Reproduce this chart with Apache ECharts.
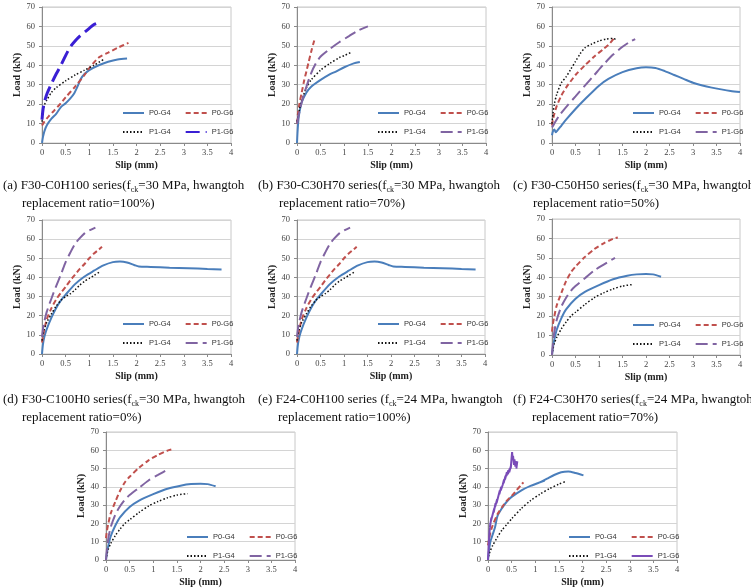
<!DOCTYPE html>
<html><head><meta charset="utf-8">
<script src="https://cdn.jsdelivr.net/npm/echarts@6/dist/echarts.min.js"></script>
<style>html,body{margin:0;padding:0;background:#fff}#c{width:751px;height:588px}</style>
</head><body><div id="c"></div>
<script>
// ---- data ----
const seriesNames = ['P0-G4', 'P0-G6', 'P1-G4', 'P1-G6'];
const xRange = [0, 4, 0.5];
const yRange = [0, 70, 10];
const xName = 'Slip (mm)';
const yName = 'Load (kN)';

const captionLine1 = [
  '(a) F30-C0H100 series(f{s|ck}=30 MPa, hwangtoh',
  '(b) F30-C30H70 series(f{s|ck}=30 MPa, hwangtoh',
  '(c) F30-C50H50 series(f{s|ck}=30 MPa, hwangtoh',
  '(d) F30-C100H0 series(f{s|ck}=30 MPa, hwangtoh',
  '(e) F24-C0H100 series (f{s|ck}=24 MPa, hwangtoh',
  '(f) F24-C30H70 series(f{s|ck}=24 MPa, hwangtoh'
];
const captionLine2 = [
  'replacement ratio=100%)',
  'replacement ratio=70%)',
  'replacement ratio=50%)',
  'replacement ratio=0%)',
  'replacement ratio=100%)',
  'replacement ratio=70%)'
];

// (a)
const a_P0G4 = [[0,0],[0.02,3],[0.05,6],[0.1,9],[0.2,12.5],[0.3,15],[0.4,18.5],[0.5,20.5],[0.6,23],[0.68,25.5],[0.75,29],[0.82,33],[0.9,35.5],[1.0,37.5],[1.2,40],[1.4,41.8],[1.6,43],[1.8,43.5]];
const a_P0G6 = [[0,9],[0.05,11],[0.15,14],[0.25,16.5],[0.4,20.5],[0.5,23.5],[0.7,29],[0.9,35],[1.0,38.5],[1.2,44],[1.4,46.5],[1.6,49],[1.83,51.5]];
const a_P1G4 = [[0,11],[0.02,16],[0.05,19.5],[0.1,22],[0.2,26],[0.3,28.5],[0.5,32],[0.7,35],[0.9,37.5],[1.1,40],[1.3,43]];
const a_P1G6 = [[0,12],[0.02,17],[0.05,21],[0.1,25],[0.2,30.5],[0.3,35.5],[0.4,40],[0.5,45],[0.6,49.5],[0.7,52.5],[0.8,55],[0.9,57],[1.0,59],[1.1,61],[1.2,62]];
// (b)
const b_P0G4 = [[0,0],[0.01,5],[0.03,12],[0.06,17],[0.1,21],[0.2,26],[0.3,29],[0.5,32.5],[0.7,35.5],[0.8,36.5],[1.0,39],[1.2,41],[1.33,41.7]];
const b_P0G6 = [[0,10],[0.02,15],[0.05,20],[0.1,26],[0.15,32],[0.2,37],[0.25,42],[0.3,47],[0.35,51.5],[0.38,54]];
const b_P1G4 = [[0,11],[0.05,17],[0.1,22],[0.2,28.5],[0.3,32.5],[0.5,37.5],[0.7,41],[0.9,44],[1.0,45],[1.16,46.8]];
const b_P1G6 = [[0,10],[0.05,16],[0.1,21],[0.2,29],[0.3,36],[0.4,41],[0.5,44.5],[0.7,48.5],[0.9,52],[1.1,55],[1.3,58],[1.5,60]];
// (c)
const c_P0G4 = [[0,4],[0.02,6],[0.05,7],[0.08,5.5],[0.1,6],[0.2,9],[0.3,12],[0.5,17.5],[0.7,22.5],[1.0,29.5],[1.2,33],[1.5,36.5],[1.8,38.5],[2.0,39],[2.2,38.6],[2.4,37],[2.6,35],[2.8,33],[3.0,31],[3.2,29.6],[3.4,28.5],[3.6,27.6],[3.8,26.8],[4.0,26.2]];
const c_P0G6 = [[0,9],[0.02,12],[0.05,15],[0.1,19],[0.2,24.5],[0.3,28.5],[0.5,35],[0.7,40],[0.9,44.5],[1.1,48.5],[1.2,50.5],[1.34,54.5]];
const c_P1G4 = [[0,10],[0.02,15],[0.05,20],[0.1,25],[0.2,31],[0.3,34],[0.4,38],[0.5,42],[0.6,46],[0.7,49],[0.85,51],[1.0,52.5],[1.15,53.5],[1.3,53.8],[1.38,53]];
const c_P1G6 = [[0,8],[0.05,10],[0.15,14],[0.3,18.5],[0.5,24],[0.7,29.5],[0.9,35],[1.1,40.5],[1.3,45.5],[1.5,49.5],[1.65,52],[1.77,53.5]];
// (d)
const d_P0G4 = [[0,0],[0.02,5],[0.05,9],[0.1,13],[0.2,19],[0.3,24],[0.4,28],[0.5,31],[0.7,36.5],[0.9,40.5],[1.1,43.5],[1.3,46.3],[1.5,48],[1.65,48.3],[1.8,47.8],[1.95,46.5],[2.05,45.7],[2.3,45.5],[2.7,45.1],[3.1,44.8],[3.5,44.4],[3.8,44.2]];
const d_P0G6 = [[0,6],[0.02,9],[0.05,13],[0.1,18],[0.2,24],[0.3,28.5],[0.4,32],[0.5,35],[0.6,38.5],[0.7,41.5],[0.8,44.5],[0.9,47],[1.0,50],[1.1,52.5],[1.2,54.5],[1.27,56]];
const d_P1G4 = [[0,7],[0.02,10],[0.05,13],[0.1,16.5],[0.2,21],[0.3,25],[0.4,28],[0.5,30],[0.6,31.5],[0.7,33.5],[0.8,36],[0.9,38],[1.0,39.5],[1.1,41],[1.23,43]];
const d_P1G6 = [[0,9],[0.02,13],[0.05,17],[0.1,22],[0.2,29],[0.3,35.5],[0.4,41.5],[0.5,48],[0.6,53],[0.7,57.5],[0.8,60.5],[0.9,63],[1.0,64.5],[1.13,66]];
// (e) plotted identically to (d) in the source figure
const e_P0G4 = [[0,0],[0.02,5],[0.05,9],[0.1,13],[0.2,19],[0.3,24],[0.4,28],[0.5,31],[0.7,36.5],[0.9,40.5],[1.1,43.5],[1.3,46.3],[1.5,48],[1.65,48.3],[1.8,47.8],[1.95,46.5],[2.05,45.7],[2.3,45.5],[2.7,45.1],[3.1,44.8],[3.5,44.4],[3.8,44.2]];
const e_P0G6 = [[0,6],[0.02,9],[0.05,13],[0.1,18],[0.2,24],[0.3,28.5],[0.4,32],[0.5,35],[0.6,38.5],[0.7,41.5],[0.8,44.5],[0.9,47],[1.0,50],[1.1,52.5],[1.2,54.5],[1.27,56]];
const e_P1G4 = [[0,7],[0.02,10],[0.05,13],[0.1,16.5],[0.2,21],[0.3,25],[0.4,28],[0.5,30],[0.6,31.5],[0.7,33.5],[0.8,36],[0.9,38],[1.0,39.5],[1.1,41],[1.23,43]];
const e_P1G6 = [[0,9],[0.02,13],[0.05,17],[0.1,22],[0.2,29],[0.3,35.5],[0.4,41.5],[0.5,48],[0.6,53],[0.7,57.5],[0.8,60.5],[0.9,63],[1.0,64.5],[1.13,66]];
// (f)
const f_P0G4 = [[0,0],[0.02,4],[0.05,8],[0.1,13],[0.2,19],[0.3,23.5],[0.5,29],[0.7,32.5],[1.0,36],[1.3,39],[1.6,40.8],[1.8,41.5],[2.0,41.7],[2.15,41.5],[2.32,40.3]];
const f_P0G6 = [[0,12],[0.02,16],[0.05,20],[0.1,25.5],[0.2,32],[0.3,38],[0.4,42.5],[0.5,45.5],[0.7,50.5],[0.9,54.5],[1.1,57.5],[1.3,59.8],[1.4,60.5]];
const f_P1G4 = [[0,0],[0.02,3],[0.05,6],[0.1,9],[0.2,13.5],[0.3,17],[0.4,20],[0.5,22],[0.7,26],[0.9,29.5],[1.1,32],[1.3,34],[1.5,35.5],[1.73,36.3]];
const f_P1G6 = [[0,0],[0.02,6],[0.05,12],[0.1,18],[0.2,25],[0.3,29.5],[0.4,33],[0.5,35.5],[0.7,39.5],[0.9,43.5],[1.1,46.5],[1.34,50]];
// (g) plotted identically to (f) in the source figure
const g_P0G4 = [[0,0],[0.02,4],[0.05,8],[0.1,13],[0.2,19],[0.3,23.5],[0.5,29],[0.7,32.5],[1.0,36],[1.3,39],[1.6,40.8],[1.8,41.5],[2.0,41.7],[2.15,41.5],[2.32,40.3]];
const g_P0G6 = [[0,12],[0.02,16],[0.05,20],[0.1,25.5],[0.2,32],[0.3,38],[0.4,42.5],[0.5,45.5],[0.7,50.5],[0.9,54.5],[1.1,57.5],[1.3,59.8],[1.4,60.5]];
const g_P1G4 = [[0,0],[0.02,3],[0.05,6],[0.1,9],[0.2,13.5],[0.3,17],[0.4,20],[0.5,22],[0.7,26],[0.9,29.5],[1.1,32],[1.3,34],[1.5,35.5],[1.73,36.3]];
const g_P1G6 = [[0,0],[0.02,6],[0.05,12],[0.1,18],[0.2,25],[0.3,29.5],[0.4,33],[0.5,35.5],[0.7,39.5],[0.9,43.5],[1.1,46.5],[1.34,50]];
// (h)
const h_P0G4 = [[0,0],[0.02,5],[0.05,10],[0.1,14],[0.15,18],[0.2,24],[0.3,28.5],[0.4,32],[0.5,34.5],[0.7,38],[0.9,40.5],[1.05,42],[1.2,43.5],[1.1,42.5],[1.25,44.5],[1.4,46.5],[1.55,48],[1.7,48.4],[1.85,47.6],[2.02,46.3]];
const h_P0G6 = [[0,8],[0.02,11],[0.05,15],[0.1,19],[0.2,25],[0.3,29],[0.4,32.5],[0.5,35],[0.6,38],[0.7,41],[0.75,42.5]];
const h_P1G4 = [[0,0],[0.02,3],[0.05,5],[0.1,8],[0.2,12.5],[0.3,16.5],[0.4,19.5],[0.5,22.5],[0.7,28],[0.9,32.5],[1.1,36],[1.3,39],[1.5,41.5],[1.63,42.8]];
const h_P1G6 = [[0,0],[0.02,10],[0.03,15],[0.05,20],[0.04,18],[0.07,23],[0.06,21],[0.1,25],[0.09,24],[0.13,28],[0.12,26],[0.16,31],[0.15,29],[0.19,33],[0.18,31],[0.22,35],[0.21,34],[0.25,38],[0.24,36],[0.28,40],[0.27,38],[0.31,41],[0.3,40],[0.34,44],[0.33,42],[0.37,46],[0.36,44],[0.4,48],[0.39,46],[0.43,49],[0.42,47],[0.46,50],[0.45,48],[0.49,52],[0.48,50],[0.5,56],[0.51,59],[0.52,55],[0.53,57],[0.55,52],[0.56,55],[0.58,51],[0.59,54],[0.61,52],[0.62,54],[0.6,50]];

const panelKeys = ['a','b','c','d','e','f','g','h'];
const panelData = [
  [a_P0G4,a_P0G6,a_P1G4,a_P1G6],[b_P0G4,b_P0G6,b_P1G4,b_P1G6],[c_P0G4,c_P0G6,c_P1G4,c_P1G6],
  [d_P0G4,d_P0G6,d_P1G4,d_P1G6],[e_P0G4,e_P0G6,e_P1G4,e_P1G6],[f_P0G4,f_P0G6,f_P1G4,f_P1G6],
  [g_P0G4,g_P0G6,g_P1G4,g_P1G6],[h_P0G4,h_P0G6,h_P1G4,h_P1G6]
];

// ---- layout & styles ----
const layout = [
  {l:42, t:7, w:189, h:136, cx1:3, cx2:22, cy:178},
  {l:297, t:7, w:189, h:136, cx1:258, cx2:279, cy:178},
  {l:552, t:7, w:188, h:136, cx1:513, cx2:533, cy:178},
  {l:42, t:220, w:189, h:134, cx1:3, cx2:22, cy:392},
  {l:297, t:220, w:188, h:134, cx1:258, cx2:278, cy:392},
  {l:552, t:219, w:188, h:136, cx1:513, cx2:532, cy:392},
  {l:106, t:432, w:189, h:135},
  {l:488, t:432, w:189, h:135}
];
const baseStyles = [
  {color:'#4A7EBB', width:2, type:'solid'},
  {color:'#C0504D', width:2, type:[5,3]},
  {color:'#111111', width:1.5, type:[1.5,2]},
  {color:'#8064A2', width:2, type:[12,5]}
];
function styleFor(p, j) {
  if (p === 0 && j === 3) return {color:'#3A1FD4', width:3, type:[14,6]};
  if (p === 7 && j === 3) return {color:'#7A4CB8', width:2, type:'solid'};
  return baseStyles[j];
}
const serif = '"Liberation Serif", "Times New Roman", serif';
const axisGray = '#8a8a8a';

const grid = [], xAxis = [], yAxis = [], series = [], legend = [], title = [];
layout.forEach((g, i) => {
  grid.push({left:g.l, top:g.t, width:g.w, height:g.h, show:true, borderColor:'#c8c8c8', borderWidth:1, containLabel:false});
  xAxis.push({gridIndex:i, type:'value', min:xRange[0], max:xRange[1], interval:xRange[2],
    name:xName, nameLocation:'middle', nameGap:17,
    nameTextStyle:{fontFamily:serif, fontSize:10, fontWeight:'bold', color:'#222'},
    axisLine:{show:true, onZero:false, lineStyle:{color:axisGray}},
    axisTick:{show:true, length:3, lineStyle:{color:axisGray}},
    axisLabel:{fontFamily:serif, fontSize:8.5, color:'#444', margin:5},
    splitLine:{show:false}});
  yAxis.push({gridIndex:i, type:'value', min:yRange[0], max:yRange[1], interval:yRange[2],
    name:yName, nameLocation:'middle', nameGap:19,
    nameTextStyle:{fontFamily:serif, fontSize:10, fontWeight:'bold', color:'#222'},
    axisLine:{show:true, onZero:false, lineStyle:{color:axisGray}},
    axisTick:{show:true, length:3, lineStyle:{color:axisGray}},
    axisLabel:{fontFamily:serif, fontSize:8.5, color:'#444', margin:7},
    splitLine:{show:true, lineStyle:{color:'#d4d4d4', width:1}}});
  const key = panelKeys[i];
  panelData[i].forEach((d, j) => {
    const st = styleFor(i, j);
    const jagged = (i === 7 && j === 3);
    series.push({type:'line', name:key+':'+seriesNames[j], xAxisIndex:i, yAxisIndex:i, data:d,
      symbol:'none', smooth: jagged ? false : 0.25, silent:true, animation:false,
      lineStyle:{color:st.color, width:st.width, type:st.type}, itemStyle:{color:st.color}, z:3});
  });
  const legBase = {padding:0, itemWidth:21, itemHeight:8, itemGap:14, selectedMode:false,
    itemStyle:{opacity:0},
    formatter: n => n.split(':')[1],
    textStyle:{fontFamily:'"Liberation Sans", Arial, sans-serif', fontSize:7.5, color:'#333', padding:[0,0,0,0]}};
  legend.push(Object.assign({}, legBase, {left:g.l+80, top:g.t+g.h-34, data:[key+':P0-G4', key+':P0-G6']}));
  legend.push(Object.assign({}, legBase, {left:g.l+80, top:g.t+g.h-15, data:[key+':P1-G4', key+':P1-G6']}));
  if (i < 6) {
    const ts = {fontFamily:serif, fontSize:13, fontWeight:'normal', color:'#111', lineHeight:16,
      rich:{s:{fontFamily:serif, fontSize:8, lineHeight:9, verticalAlign:'bottom', color:'#111'}}};
    title.push({left:g.cx1, top:g.cy, padding:0, text:captionLine1[i], textStyle:ts});
    title.push({left:g.cx2, top:g.cy+18, padding:0, text:captionLine2[i], textStyle:ts});
  }
});

const chart = echarts.init(document.getElementById('c'), null, {renderer:'canvas'});
chart.setOption({animation:false, backgroundColor:'#fff', grid, xAxis, yAxis, series, legend, title});
</script>
</body></html>
